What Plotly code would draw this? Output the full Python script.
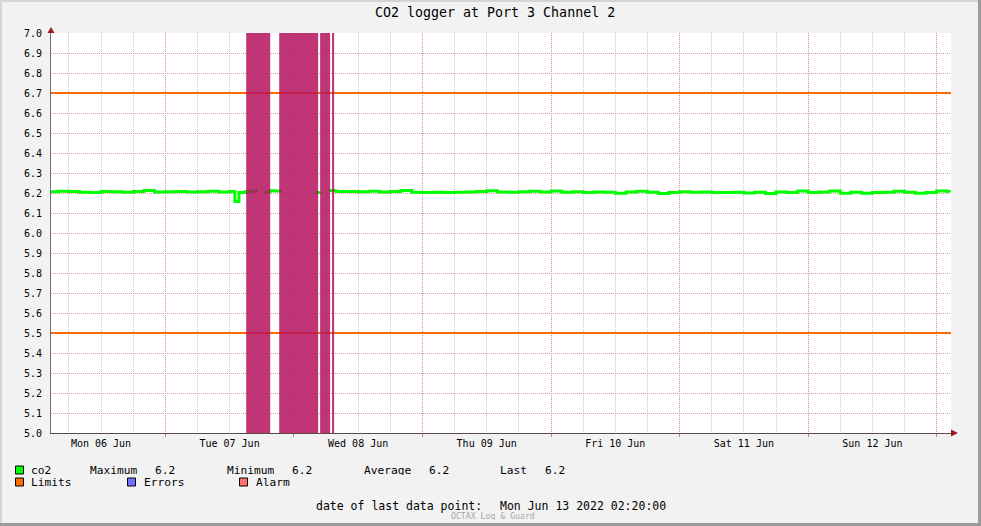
import plotly.graph_objects as go

# ---------------- data ----------------
title_text = "CO2 logger at Port 3 Channel 2"
x_range = ["2022-06-06 02:40", "2022-06-13 02:40"]
y_range = [5.0, 7.0]

co2_time = [
    "2022-06-06 02:00", "2022-06-06 04:00", "2022-06-06 06:00", "2022-06-06 08:00", "2022-06-06 10:00",
    "2022-06-06 12:00", "2022-06-06 14:00", "2022-06-06 16:00", "2022-06-06 18:00", "2022-06-06 20:00",
    "2022-06-06 22:00",
    "2022-06-07 00:00", "2022-06-07 02:00", "2022-06-07 04:00", "2022-06-07 06:00", "2022-06-07 08:00",
    "2022-06-07 10:00", "2022-06-07 12:00", "2022-06-07 13:00", "2022-06-07 13:45", "2022-06-07 15:00",
    "2022-06-07 16:00", "2022-06-07 17:00", "2022-06-07 17:30", "2022-06-07 18:30", "2022-06-07 19:30",
    "2022-06-07 20:30", "2022-06-07 21:30", "2022-06-07 22:00",
    "2022-06-08 04:00", "2022-06-08 04:50", "2022-06-08 05:20", "2022-06-08 06:30", "2022-06-08 07:30",
    "2022-06-08 08:00", "2022-06-08 10:00", "2022-06-08 12:00", "2022-06-08 14:00", "2022-06-08 16:00",
    "2022-06-08 18:00", "2022-06-08 20:00", "2022-06-08 22:00",
    "2022-06-09 00:00", "2022-06-09 02:00", "2022-06-09 04:00", "2022-06-09 06:00", "2022-06-09 08:00",
    "2022-06-09 10:00", "2022-06-09 12:00", "2022-06-09 14:00", "2022-06-09 16:00", "2022-06-09 18:00",
    "2022-06-09 20:00", "2022-06-09 22:00",
    "2022-06-10 00:00", "2022-06-10 02:00", "2022-06-10 04:00", "2022-06-10 06:00", "2022-06-10 08:00",
    "2022-06-10 10:00", "2022-06-10 12:00", "2022-06-10 14:00", "2022-06-10 16:00", "2022-06-10 18:00",
    "2022-06-10 20:00", "2022-06-10 22:00",
    "2022-06-11 00:00", "2022-06-11 02:00", "2022-06-11 04:00", "2022-06-11 06:00", "2022-06-11 08:00",
    "2022-06-11 10:00", "2022-06-11 12:00", "2022-06-11 14:00", "2022-06-11 16:00", "2022-06-11 18:00",
    "2022-06-11 20:00", "2022-06-11 22:00",
    "2022-06-12 00:00", "2022-06-12 02:00", "2022-06-12 04:00", "2022-06-12 06:00", "2022-06-12 08:00",
    "2022-06-12 10:00", "2022-06-12 12:00", "2022-06-12 14:00", "2022-06-12 16:00", "2022-06-12 18:00",
    "2022-06-12 20:00", "2022-06-12 22:00",
    "2022-06-13 00:00", "2022-06-13 02:00", "2022-06-13 02:20",
]
co2_value = [
    6.206, 6.209, 6.207, 6.204, 6.202, 6.208, 6.206, 6.204, 6.207, 6.213, 6.205,
    6.206, 6.208, 6.205, 6.206, 6.209, 6.205, 6.207, 6.158, 6.203, 6.207,
    6.210, 6.205, None, 6.205, 6.211, 6.210, 6.205, None,
    6.203, 6.205, None, 6.212, 6.210, 6.208, 6.208, 6.206, 6.209, 6.205,
    6.207, 6.212, 6.204,
    6.202, 6.204, 6.203, 6.204, 6.205, 6.207, 6.211, 6.205, 6.204, 6.206, 6.209, 6.205,
    6.210, 6.204, 6.206, 6.203, 6.205, 6.204, 6.199, 6.205, 6.209, 6.204, 6.197, 6.202,
    6.206, 6.204, 6.205, 6.203, 6.203, 6.204, 6.200, 6.204, 6.198, 6.205, 6.203, 6.210,
    6.202, 6.205, 6.210, 6.199, 6.204, 6.199, 6.203, 6.204, 6.209, 6.204, 6.199, 6.203,
    6.210, 6.207, 6.204,
]

limit_low = 5.5
limit_high = 6.7

alarm_start = ["2022-06-07 15:06", "2022-06-07 21:16", "2022-06-08 04:54", "2022-06-08 07:08"]
alarm_end = ["2022-06-07 19:35", "2022-06-08 04:32", "2022-06-08 06:46", "2022-06-08 07:31"]

last_data_point = "Mon Jun 13 2022 02:20:00"
footer = "OCTAX Log & Guard"

# ---------------- styling ----------------
W, H = 981, 526
ML, MR, MT, MB = 51, 30, 33, 93
PW, PH = W - ML - MR, H - MT - MB
MONO = "DejaVu Sans Mono"
GREEN = "#00ff00"
ORANGE = "#ff6a00"
ALARM_FILL = "rgba(181,18,94,0.85)"


def px(x):
    return (x - ML) / PW


def py(y):
    return (H - MB - y) / PH


fig = go.Figure()

# limits
for lv in (limit_low, limit_high):
    fig.add_trace(go.Scatter(x=x_range, y=[lv, lv], mode="lines",
                             line=dict(color=ORANGE, width=2), hoverinfo="skip"))

# co2
fig.add_trace(go.Scatter(x=co2_time, y=co2_value, mode="lines",
                         line=dict(color=GREEN, width=3, shape="hv"), connectgaps=False))

# alarms
for s, e in zip(alarm_start, alarm_end):
    fig.add_trace(go.Scatter(x=[s, s, e, e, s],
                             y=[y_range[0], y_range[1], y_range[1], y_range[0], y_range[0]],
                             mode="lines", fill="toself", fillcolor=ALARM_FILL,
                             line=dict(width=0), hoverinfo="skip"))

vals = [v for v in co2_value if v is not None]
stats = {
    "Maximum": max(vals),
    "Minimum": min(vals),
    "Average": sum(vals) / len(vals),
    "Last": vals[-1],
}

annotations = []


def txt(x, y, s, size=11.5, color="black", anchor="left", h=None):
    a = dict(x=px(x), y=py(y), xref="paper", yref="paper", text=s,
             showarrow=False, xanchor=anchor, yanchor="middle", borderpad=0,
             font=dict(family=MONO, size=size, color=color))
    if h is not None:
        a["height"] = h
    annotations.append(a)


txt(494.5, 13, title_text, size=13.3, anchor="center")

LEG = 11.2
txt(30, 470, "co2", size=LEG, h=9)
cols = [(88.7, 153.7, "Maximum"), (225.7, 290.7, "Minimum"), (363, 427.7, "Average"), (499.3, 544.4, "Last")]
for xl, xv, name in cols:
    txt(xl, 470, name, size=LEG, h=9)
    txt(xv, 470, f"{stats[name]:.1f}", size=LEG, h=9)

txt(30, 482, "Limits", size=LEG, h=9)
txt(142.5, 482, "Errors", size=LEG, h=9)
txt(255, 482, "Alarm", size=LEG, h=9)

txt(315, 506, "date of last data point:")
txt(499, 506, last_data_point)
txt(450, 515.5, footer, size=8.2, color="#a8a8a8", h=8)

shapes = []


def rect(x0, y0, x1, y1, fill, line=None):
    shapes.append(dict(type="rect", xref="paper", yref="paper",
                       x0=px(x0), x1=px(x1), y0=py(y1), y1=py(y0),
                       fillcolor=fill, line=dict(color=line or fill, width=1 if line else 0),
                       layer="above"))


# legend squares
rect(15.5, 466, 23.5, 474, GREEN, "black")
rect(15.5, 478, 23.5, 486, ORANGE, "black")
rect(127.5, 478, 135.5, 486, "#7070ff", "black")
rect(239.5, 478, 247.5, 486, "#ff7070", "black")

# canvas frame
rect(0, 0, 981, 2, "#d4d4d4")
rect(0, 0, 2, 526, "#d4d4d4")
rect(0, 523, 981, 526, "#9c9c9c")
rect(978, 0, 981, 526, "#9c9c9c")

# axis arrows
ARROW = "#9b1c1c"
shapes.append(dict(type="path", xref="paper", yref="paper", layer="above",
                   path=f"M {px(47.5)} {py(33)} L {px(54.5)} {py(33)} L {px(51)} {py(27)} Z",
                   fillcolor=ARROW, line=dict(width=0)))
shapes.append(dict(type="path", xref="paper", yref="paper", layer="above",
                   path=f"M {px(951)} {py(429.5)} L {px(951)} {py(436.5)} L {px(958)} {py(433)} Z",
                   fillcolor=ARROW, line=dict(width=0)))

fig.update_layout(
    width=W, height=H,
    margin=dict(l=ML, r=MR, t=MT, b=MB, pad=0),
    paper_bgcolor="#f2f2f2",
    plot_bgcolor="white",
    showlegend=False,
    annotations=annotations,
    shapes=shapes,
    font=dict(family=MONO, size=10, color="black"),
    xaxis=dict(
        type="date", range=x_range,
        tick0="2022-06-06", dtick=86400000, ticklabelmode="period",
        tickformat="%a %d %b",
        showgrid=True, gridcolor="rgb(228,140,140)", griddash="1px,1px", gridwidth=1,
        minor=dict(dtick=6 * 3600000, showgrid=True, gridcolor="rgb(200,200,200)",
                   griddash="1px,1px", ticks=""),
        ticks="outside", ticklen=3, tickcolor="rgb(228,120,120)",
        ticklabelstandoff=-2,
        showline=True, linecolor="#5a4a4a", linewidth=1,
        zeroline=False, fixedrange=True,
        tickfont=dict(family=MONO, size=10, color="black"),
    ),
    yaxis=dict(
        range=y_range, tick0=5.0, dtick=0.1, tickformat=".1f",
        showgrid=True, gridcolor="rgb(220,160,160)", griddash="1px,1px", gridwidth=1,
        ticks="", ticklabelstandoff=6,
        showline=True, linecolor="#707070", linewidth=1,
        zeroline=False, fixedrange=True,
        tickfont=dict(family=MONO, size=10, color="black"),
    ),
)

fig.write_html("out.html", config={"displayModeBar": False},
               post_script="document.body.style.margin='0';document.body.style.overflow='hidden';")
